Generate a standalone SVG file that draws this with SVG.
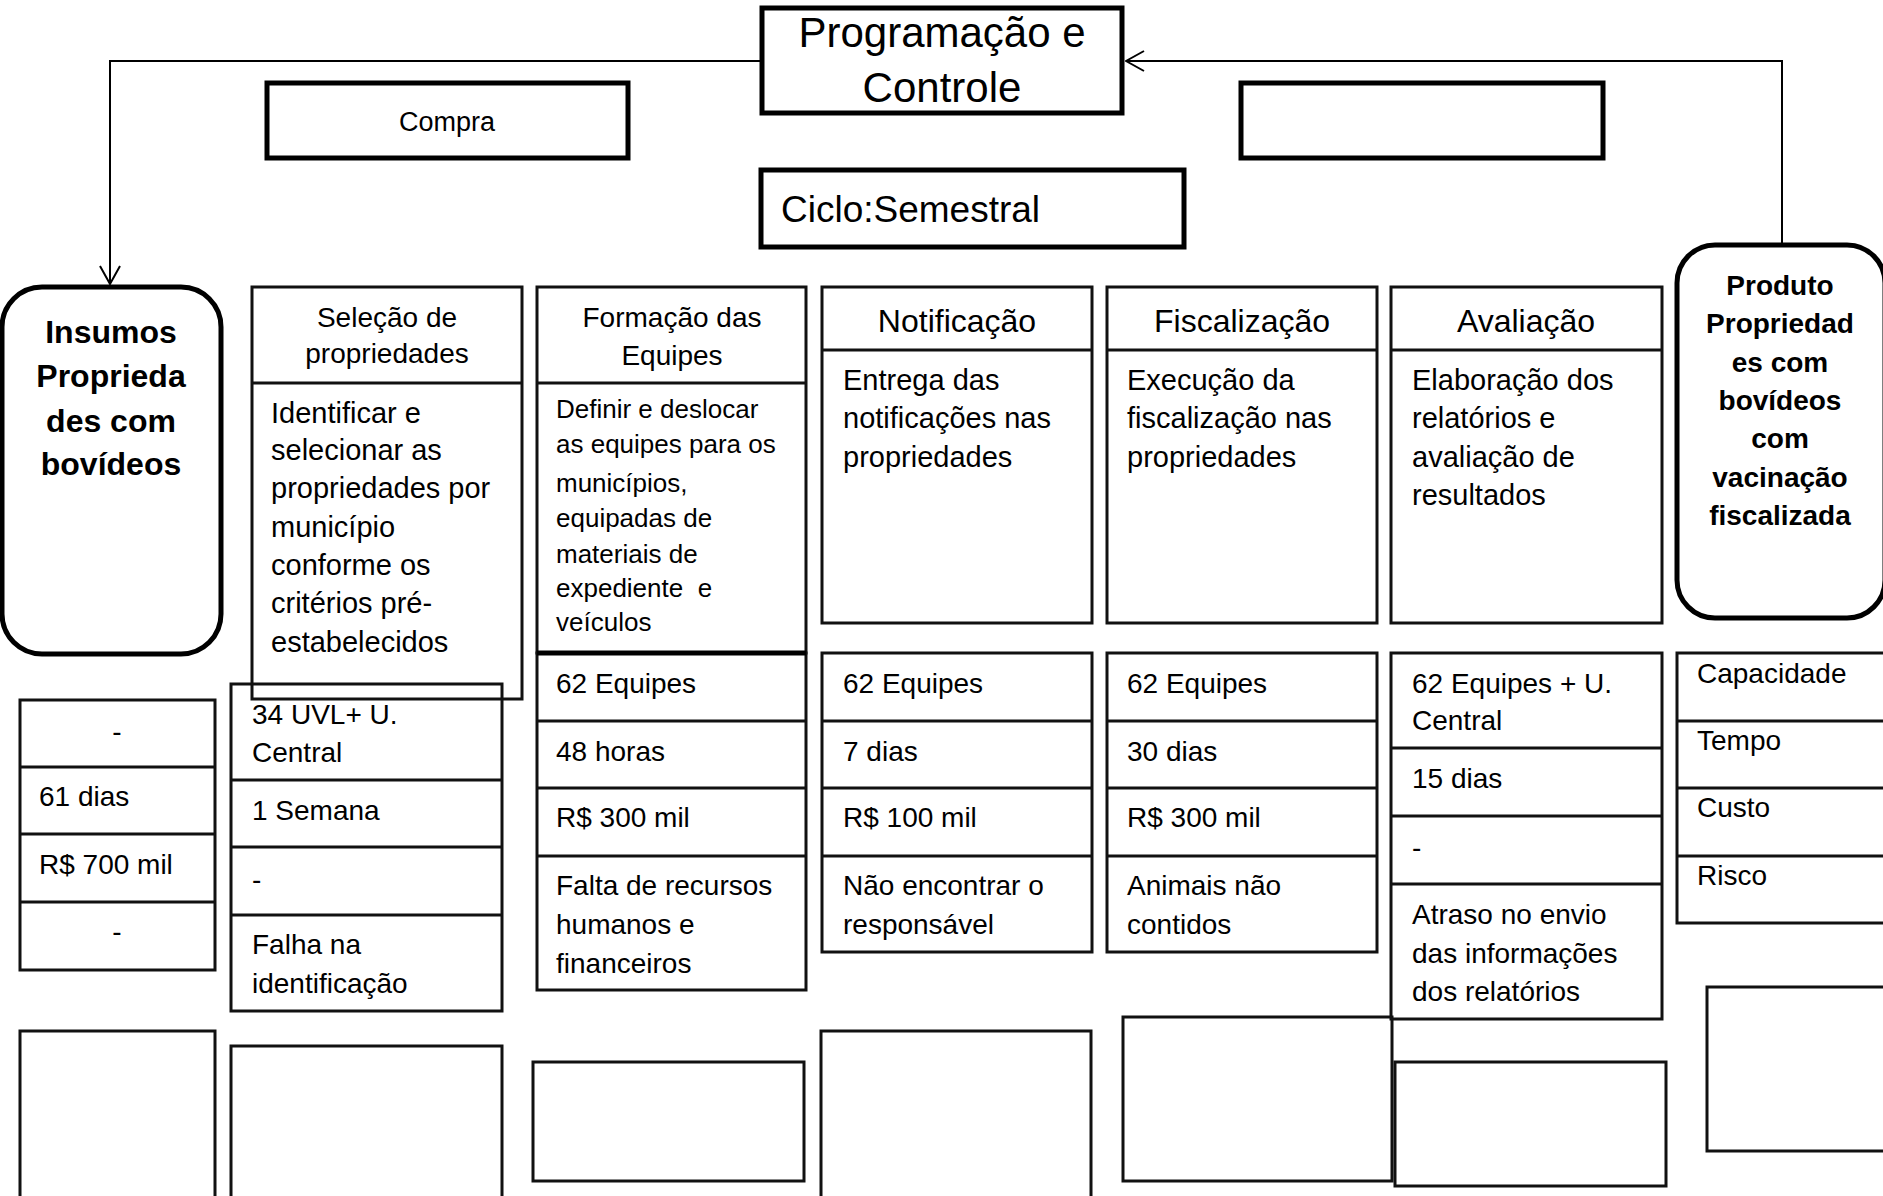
<svg xmlns="http://www.w3.org/2000/svg" width="1883" height="1196" viewBox="0 0 1883 1196">
<style>
  text { font-family: "Liberation Sans", Arial, sans-serif; fill: #000; }
  .thick { fill: #fff; stroke: #000; stroke-width: 5; }
  .col { fill: none; stroke: #111; stroke-width: 3; }
  .tbl { fill: none; stroke: #111; stroke-width: 3; }
  .round { fill: #fff; stroke: #000; stroke-width: 5; }
  .conn { fill: none; stroke: #000; stroke-width: 2; }
  .bold { font-weight: bold; text-anchor: middle; }
  .hdr { font-size: 28px; text-anchor: middle; }
  .hdr1 { font-size: 32px; text-anchor: middle; }
  .body { font-size: 29px; }
  .small { font-size: 26px; }
  .cell { font-size: 28px; }
  .mid { text-anchor: middle; }
</style>
<defs>
  <marker id="open" markerUnits="userSpaceOnUse" viewBox="0 0 20 22" refX="19" refY="11" markerWidth="20" markerHeight="22" orient="auto">
    <path d="M1,1 L19,11 L1,21" fill="none" stroke="#000" stroke-width="2"/>
  </marker>
</defs>
<rect width="1883" height="1196" fill="#fff"/>

<g id="connectors">
  <path class="conn" d="M762,61 H110 V284" marker-end="url(#open)"/>
  <path class="conn" d="M1782,245 V61 H1126" marker-end="url(#open)"/>
</g>

<g id="programacao">
  <rect class="thick" x="762" y="8" width="360" height="105"/>
  <text x="942" y="47" font-size="42" class="mid">Programação e</text>
  <text x="942" y="102" font-size="42" class="mid">Controle</text>
</g>

<g id="compra">
  <rect class="thick" x="267" y="83" width="361" height="75"/>
  <text x="447" y="131" font-size="27" class="mid">Compra</text>
</g>

<g id="vazio-topo">
  <rect class="thick" x="1241" y="83" width="362" height="75"/>
</g>

<g id="ciclo">
  <rect class="thick" x="761" y="170" width="423" height="77"/>
  <text x="781" y="222" font-size="37">Ciclo:Semestral</text>
</g>

<g id="insumos">
  <rect class="round" x="2" y="287" width="219" height="367" rx="40" ry="40"/>
  <text class="bold" x="111" y="343" font-size="32">Insumos</text>
  <text class="bold" x="111" y="387" font-size="32">Proprieda</text>
  <text class="bold" x="111" y="432" font-size="32">des com</text>
  <text class="bold" x="111" y="475" font-size="32">bovídeos</text>
</g>

<g id="produto">
  <rect class="round" x="1677" y="245" width="208" height="373" rx="38" ry="38"/>
  <text class="bold" x="1780" y="295" font-size="28">Produto</text>
  <text class="bold" x="1780" y="333" font-size="28">Propriedad</text>
  <text class="bold" x="1780" y="372" font-size="28">es com</text>
  <text class="bold" x="1780" y="410" font-size="28">bovídeos</text>
  <text class="bold" x="1780" y="448" font-size="28">com</text>
  <text class="bold" x="1780" y="487" font-size="28">vacinação</text>
  <text class="bold" x="1780" y="525" font-size="28">fiscalizada</text>
</g>

<g id="selecao">
  <rect class="col" x="252" y="287" width="270" height="412"/>
  <line class="col" x1="252" y1="383" x2="522" y2="383"/>
  <text class="hdr" x="387" y="327">Seleção de</text>
  <text class="hdr" x="387" y="363">propriedades</text>
  <text class="body" x="271" y="423">Identificar e</text>
  <text class="body" x="271" y="460">selecionar as</text>
  <text class="body" x="271" y="498">propriedades por</text>
  <text class="body" x="271" y="537">município</text>
  <text class="body" x="271" y="575">conforme os</text>
  <text class="body" x="271" y="613">critérios pré-</text>
  <text class="body" x="271" y="652">estabelecidos</text>
</g>

<g id="formacao">
  <rect class="col" x="537" y="287" width="269" height="366"/>
  <line class="col" x1="537" y1="383" x2="806" y2="383"/>
  <text class="hdr" x="672" y="327">Formação das</text>
  <text class="hdr" x="672" y="365">Equipes</text>
  <text class="small" x="556" y="418">Definir e deslocar</text>
  <text class="small" x="556" y="453">as equipes para os</text>
  <text class="small" x="556" y="492">municípios,</text>
  <text class="small" x="556" y="527">equipadas de</text>
  <text class="small" x="556" y="563">materiais de</text>
  <text class="small" x="556" y="597" xml:space="preserve">expediente  e</text>
  <text class="small" x="556" y="631">veículos</text>
</g>

<g id="notificacao">
  <rect class="col" x="822" y="287" width="270" height="336"/>
  <line class="col" x1="822" y1="350" x2="1092" y2="350"/>
  <text class="hdr1" x="957" y="332">Notificação</text>
  <text class="body" x="843" y="390">Entrega das</text>
  <text class="body" x="843" y="428">notificações nas</text>
  <text class="body" x="843" y="467">propriedades</text>
</g>

<g id="fiscalizacao">
  <rect class="col" x="1107" y="287" width="270" height="336"/>
  <line class="col" x1="1107" y1="350" x2="1377" y2="350"/>
  <text class="hdr1" x="1242" y="332">Fiscalização</text>
  <text class="body" x="1127" y="390">Execução da</text>
  <text class="body" x="1127" y="428">fiscalização nas</text>
  <text class="body" x="1127" y="467">propriedades</text>
</g>

<g id="avaliacao">
  <rect class="col" x="1391" y="287" width="271" height="336"/>
  <line class="col" x1="1391" y1="350" x2="1662" y2="350"/>
  <text class="hdr1" x="1526" y="332">Avaliação</text>
  <text class="body" x="1412" y="390">Elaboração dos</text>
  <text class="body" x="1412" y="428">relatórios e</text>
  <text class="body" x="1412" y="467">avaliação de</text>
  <text class="body" x="1412" y="505">resultados</text>
</g>

<g id="tabela-insumos">
  <rect class="tbl" x="20" y="700" width="195" height="270"/>
  <line class="tbl" x1="20" y1="767" x2="215" y2="767"/>
  <line class="tbl" x1="20" y1="834" x2="215" y2="834"/>
  <line class="tbl" x1="20" y1="902" x2="215" y2="902"/>
  <text class="cell mid" x="117" y="741">-</text>
  <text class="cell" x="39" y="806">61 dias</text>
  <text class="cell" x="39" y="874">R$ 700 mil</text>
  <text class="cell mid" x="117" y="941">-</text>
</g>

<g id="tabela-selecao">
  <rect class="tbl" x="231" y="684" width="271" height="327"/>
  <line class="tbl" x1="231" y1="780" x2="502" y2="780"/>
  <line class="tbl" x1="231" y1="847" x2="502" y2="847"/>
  <line class="tbl" x1="231" y1="915" x2="502" y2="915"/>
  <text class="cell" x="252" y="724">34 UVL+ U.</text>
  <text class="cell" x="252" y="762">Central</text>
  <text class="cell" x="252" y="820">1 Semana</text>
  <text class="cell" x="252" y="889">-</text>
  <text class="cell" x="252" y="954">Falha na</text>
  <text class="cell" x="252" y="993">identificação</text>
</g>

<g id="tabela-formacao">
  <rect class="tbl" x="537" y="653" width="269" height="337"/>
  <line x1="537" y1="653" x2="806" y2="653" stroke="#000" stroke-width="5"/>
  <line class="tbl" x1="537" y1="721" x2="806" y2="721"/>
  <line class="tbl" x1="537" y1="788" x2="806" y2="788"/>
  <line class="tbl" x1="537" y1="856" x2="806" y2="856"/>
  <text class="cell" x="556" y="693">62 Equipes</text>
  <text class="cell" x="556" y="761">48 horas</text>
  <text class="cell" x="556" y="827">R$ 300 mil</text>
  <text class="cell" x="556" y="895">Falta de recursos</text>
  <text class="cell" x="556" y="934">humanos e</text>
  <text class="cell" x="556" y="973">financeiros</text>
</g>

<g id="tabela-notificacao">
  <rect class="tbl" x="822" y="653" width="270" height="299"/>
  <line class="tbl" x1="822" y1="721" x2="1092" y2="721"/>
  <line class="tbl" x1="822" y1="788" x2="1092" y2="788"/>
  <line class="tbl" x1="822" y1="856" x2="1092" y2="856"/>
  <text class="cell" x="843" y="693">62 Equipes</text>
  <text class="cell" x="843" y="761">7 dias</text>
  <text class="cell" x="843" y="827">R$ 100 mil</text>
  <text class="cell" x="843" y="895">Não encontrar o</text>
  <text class="cell" x="843" y="934">responsável</text>
</g>

<g id="tabela-fiscalizacao">
  <rect class="tbl" x="1107" y="653" width="270" height="299"/>
  <line class="tbl" x1="1107" y1="721" x2="1377" y2="721"/>
  <line class="tbl" x1="1107" y1="788" x2="1377" y2="788"/>
  <line class="tbl" x1="1107" y1="856" x2="1377" y2="856"/>
  <text class="cell" x="1127" y="693">62 Equipes</text>
  <text class="cell" x="1127" y="761">30 dias</text>
  <text class="cell" x="1127" y="827">R$ 300 mil</text>
  <text class="cell" x="1127" y="895">Animais não</text>
  <text class="cell" x="1127" y="934">contidos</text>
</g>

<g id="tabela-avaliacao">
  <rect class="tbl" x="1391" y="653" width="271" height="366"/>
  <line class="tbl" x1="1391" y1="748" x2="1662" y2="748"/>
  <line class="tbl" x1="1391" y1="816" x2="1662" y2="816"/>
  <line class="tbl" x1="1391" y1="884" x2="1662" y2="884"/>
  <text class="cell" x="1412" y="693">62 Equipes + U.</text>
  <text class="cell" x="1412" y="730">Central</text>
  <text class="cell" x="1412" y="788">15 dias</text>
  <text class="cell" x="1412" y="857">-</text>
  <text class="cell" x="1412" y="924">Atraso no envio</text>
  <text class="cell" x="1412" y="963">das informações</text>
  <text class="cell" x="1412" y="1001">dos relatórios</text>
</g>

<g id="tabela-legenda">
  <rect class="tbl" x="1677" y="653" width="215" height="270"/>
  <line class="tbl" x1="1677" y1="721" x2="1892" y2="721"/>
  <line class="tbl" x1="1677" y1="788" x2="1892" y2="788"/>
  <line class="tbl" x1="1677" y1="856" x2="1892" y2="856"/>
  <text class="cell" x="1697" y="683">Capacidade</text>
  <text class="cell" x="1697" y="750">Tempo</text>
  <text class="cell" x="1697" y="817">Custo</text>
  <text class="cell" x="1697" y="885">Risco</text>
</g>

<g id="caixas-inferiores">
  <rect class="tbl" x="20" y="1031" width="195" height="180"/>
  <rect class="tbl" x="231" y="1046" width="271" height="165"/>
  <rect class="tbl" x="533" y="1062" width="271" height="119"/>
  <rect class="tbl" x="821" y="1031" width="270" height="180"/>
  <rect class="tbl" x="1123" y="1017" width="269" height="164"/>
  <rect class="tbl" x="1395" y="1062" width="271" height="124"/>
  <rect class="tbl" x="1707" y="987" width="190" height="164"/>
</g>
</svg>
